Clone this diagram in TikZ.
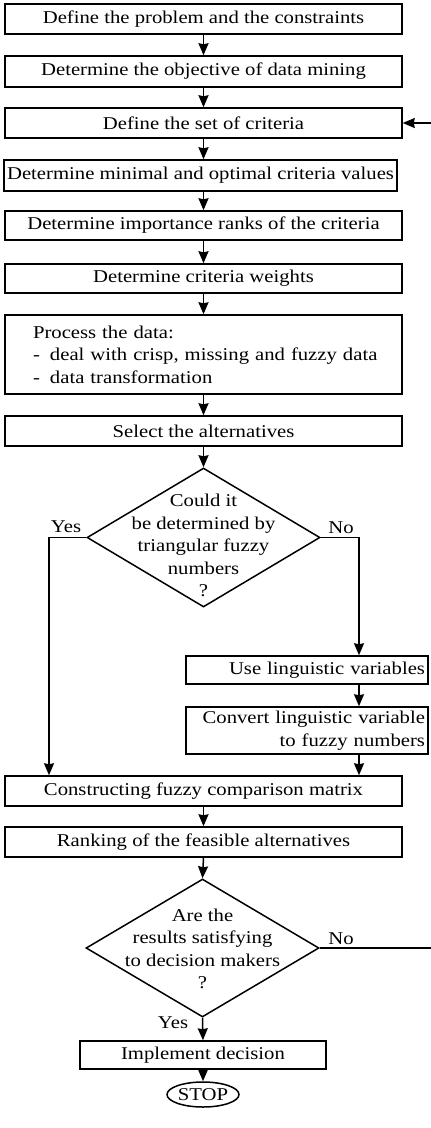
\documentclass[tikz,border=0pt]{standalone}
\usepackage{fontspec}
\setmainfont[FakeStretch=1.15]{Liberation Serif}
\usetikzlibrary{shapes.geometric,arrows.meta,positioning,calc}
\newcommand{\flowfont}{\fontsize{18}{22.5}\selectfont}
\tikzset{
	stepbox/.style={rectangle,draw,line width=1.5pt,minimum width=397pt,minimum height=30pt,inner sep=0pt,font=\flowfont},
	sidebox/.style={rectangle,draw,line width=1.5pt,minimum width=242pt,inner xsep=3pt,inner ysep=0pt,text width=236pt,align=right,font=\flowfont},
	decision/.style={diamond,draw,line width=1.5pt,minimum width=233pt,minimum height=139pt,inner sep=0pt},
	stopnode/.style={ellipse,draw,line width=1.5pt,minimum width=72pt,minimum height=25pt,inner sep=0pt,font=\flowfont},
	answer/.style={anchor=base,inner sep=0pt,font=\flowfont},
	edge/.style={color=black,line width=1.5pt},
	diredge/.style={->,>={Stealth[width=10pt,length=12pt,inset=1pt]},color=black,line width=1.5pt}
}
\begin{document}
\begin{tikzpicture}[x=1pt,y=-1pt]
	\useasboundingbox (0,0) rectangle (431,1128);
	%%%main column
	\node[stepbox] (define) at (203.5,19) {Define the problem and the constraints};
	\node[stepbox,minimum height=31pt] (objective) at (203.5,71.5) {Determine the objective of data mining};
	\node[stepbox] (criteria) at (203.5,123) {Define the set of criteria};
	\node[stepbox,minimum width=393pt,minimum height=31pt] (minopt) at (200.5,175.5) {Determine minimal and optimal criteria values};
	\node[stepbox,minimum height=29pt] (ranks) at (203.5,225.5) {Determine importance ranks of the criteria};
	\node[stepbox,minimum height=29pt] (weights) at (203.5,278.5) {Determine criteria weights};
	\node[stepbox,minimum height=79pt,text width=341pt,align=left] (process) at (203.5,354.5)
		{Process the data:\\\mbox{\makebox[17pt][l]{-}deal with crisp, missing and fuzzy data}\\\mbox{\makebox[17pt][l]{-}data transformation}};
	\node[stepbox] (select) at (203.5,431) {Select the alternatives};
	
	%%%% first question
	\node[decision,label={[align=center,font=\flowfont,yshift=-8pt]center:{Could it\\be determined by\\triangular fuzzy\\numbers\\?}}] (fuzzyq) at (203.5,537.5) {};
	\coordinate (yesC) at (49,537.5);
	\coordinate (noC) at (359,537.5);
	\node[answer] (yes1) at (66,532) {Yes};
	\node[answer] (no1) at (341,533) {No};
	
	%%%% linguistic branch
	\node[sidebox,minimum height=28pt] (ling) at (307,670) {Use linguistic variables};
	\node[sidebox,minimum height=47pt] (convert) at (307,730.5) {Convert linguistic variable\\to fuzzy numbers};
	
	\node[stepbox] (matrix) at (203.5,791) {Constructing fuzzy comparison matrix};
	\node[stepbox] (ranking) at (203.5,842) {Ranking of the feasible alternatives};
	
	%%%% second question
	\node[decision,minimum width=233pt,minimum height=138pt,label={[align=center,font=\flowfont,yshift=-1pt]center:{Are the\\results satisfying\\to decision makers\\?}}] (satq) at (202.5,948) {};
	\node[answer] (no2) at (341,944) {No};
	\node[answer] (yes2) at (173,1028) {Yes};
	\coordinate (fbBot) at (432,948);
	\coordinate (fbTop) at (432,123);
	
	\node[stepbox,minimum width=246pt,minimum height=28pt] (implement) at (203,1055) {Implement decision};
	\node[stopnode] (stop) at (203,1094.5) {STOP};
	
	%%%arrows
	\draw[diredge] (define) -- (objective);
	\draw[diredge] (objective) -- (criteria);
	\draw[diredge] (criteria.south) -- (criteria.south |- minopt.north);
	\draw[diredge] (criteria.south |- minopt.south) -- (ranks.north);
	\draw[diredge] (ranks) -- (weights);
	\draw[diredge] (weights) -- (process);
	\draw[diredge] (process) -- (select);
	\draw[diredge] (select) -- (fuzzyq);
	
	\draw[diredge] (fuzzyq.west) -- (yesC) -- (yesC |- matrix.north);
	\draw[diredge] (fuzzyq.east) -- (noC) -- (noC |- ling.north);
	\draw[diredge] (noC |- ling.south) -- (noC |- convert.north);
	\draw[diredge] (noC |- convert.south) -- (noC |- matrix.north);
	
	\draw[diredge] (matrix) -- (ranking);
	\draw[diredge] (ranking.south) -- (satq.north);
	\draw[diredge] (satq.south) -- (implement.north);
	\draw[diredge] (implement) -- (stop);
	
	\draw[diredge] (satq.east) -- (fbBot) -- (fbTop) -- (criteria.east);
\end{tikzpicture}
\end{document}
